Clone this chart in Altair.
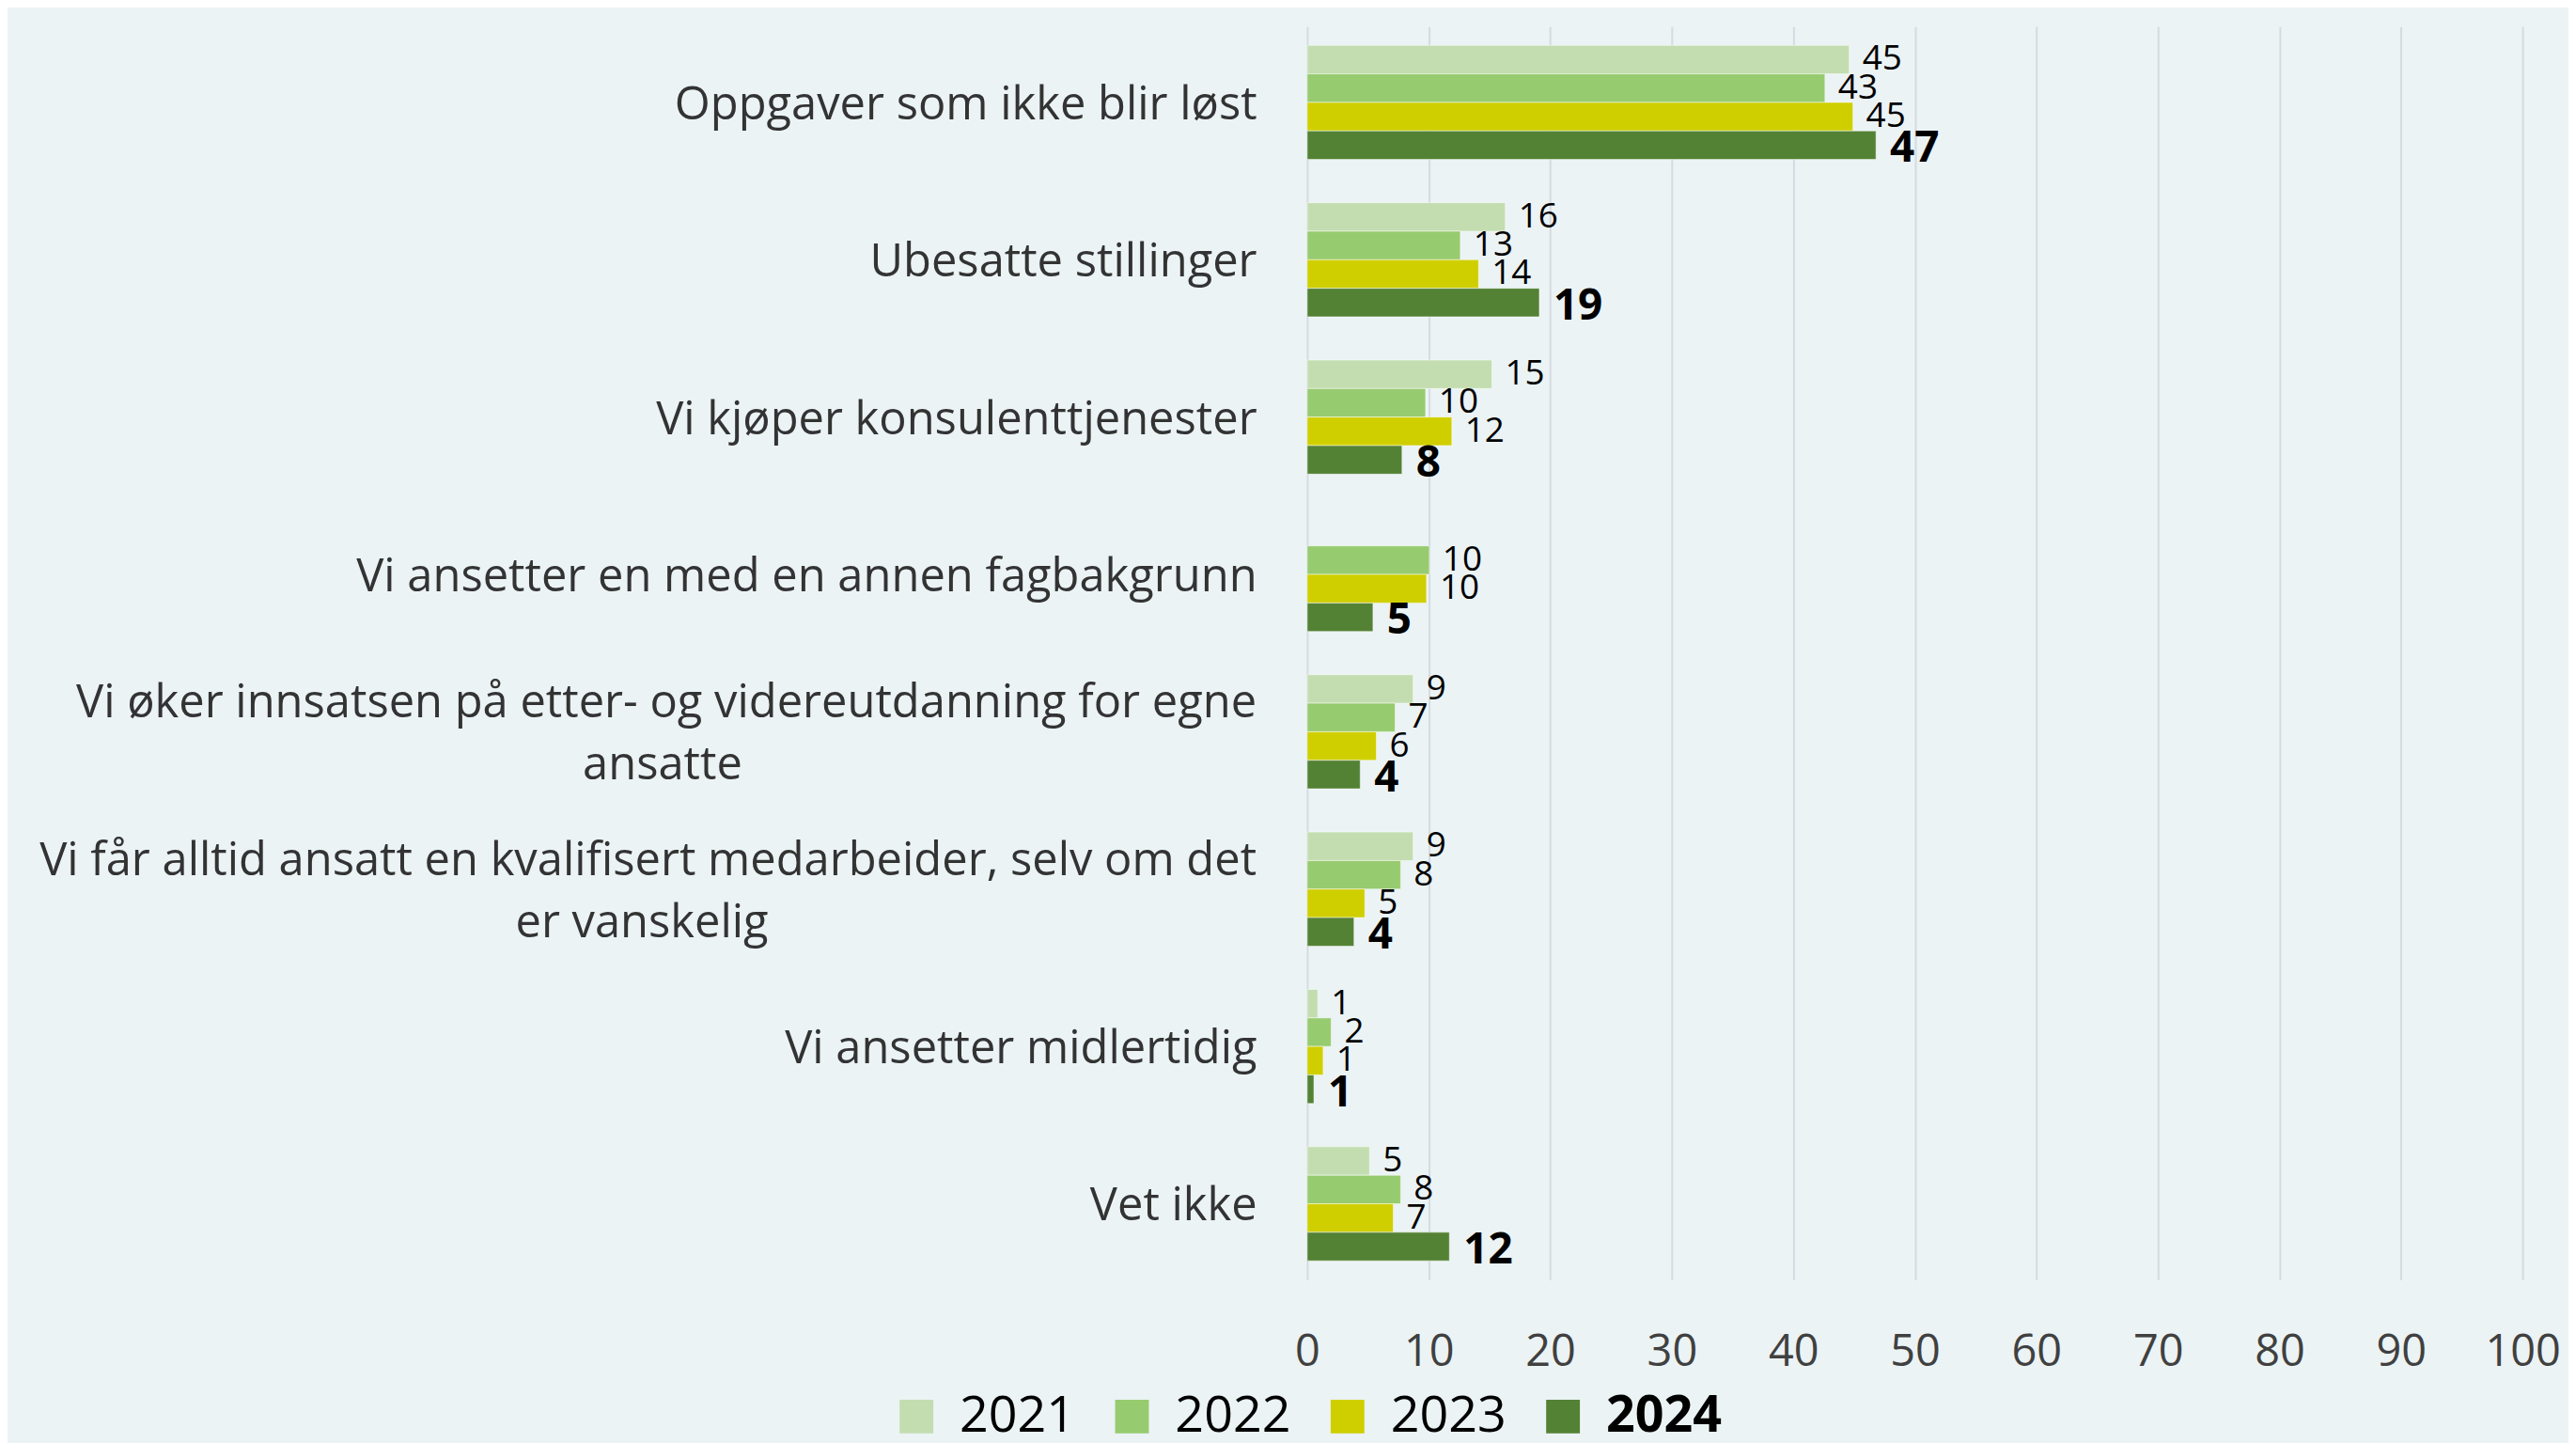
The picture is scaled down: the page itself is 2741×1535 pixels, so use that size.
import altair as alt
import pandas as pd

# ---- data ----
categories = [
    "Oppgaver som ikke blir løst",
    "Ubesatte stillinger",
    "Vi kjøper konsulenttjenester",
    "Vi ansetter en med en annen fagbakgrunn",
    "Vi øker innsatsen på etter- og videreutdanning for egne",
    "Vi får alltid ansatt en kvalifisert medarbeider, selv om det",
    "Vi ansetter midlertidig",
    "Vet ikke",
]
# the two wrapped category labels: first line is the category, second line below
wrap_categories = [categories[4], categories[5]]
wrap_lines = ["ansatte", "er vanskelig"]

years = ["2021", "2022", "2023", "2024"]
v2021 = [44.6, 16.3, 15.2, None, 8.72, 8.72, 0.87, 5.13]
v2022 = [42.6, 12.6, 9.74, 10.05, 7.23, 7.69, 1.97, 7.69]
v2023 = [44.9, 14.1, 11.9, 9.82, 5.69, 4.74, 1.31, 7.08]
v2024 = [46.8, 19.1, 7.8, 5.41, 4.36, 3.85, 0.55, 11.7]
colors = ["#C3DDB0", "#97CB6F", "#CFCF00", "#548235"]

rows = []
for yr, vals in zip(years, [v2021, v2022, v2023, v2024]):
    for c, v in zip(categories, vals):
        if v is not None:
            rows.append({"cat": c, "year": yr, "value": v})
df = pd.DataFrame(rows)

FONT = "Open Sans"
CAT_SIZE = 49
CAT_COLOR = "#333333"
EXTENT = 1387

y_enc = alt.Y(
    "cat:N",
    sort=categories,
    scale=alt.Scale(paddingInner=0.275, paddingOuter=0.12),
    axis=alt.Axis(
        title=None, domain=False, ticks=False, labelPadding=54, labelOffset=3,
        labelFont=FONT, labelFontSize=CAT_SIZE, labelColor=CAT_COLOR,
        labelLimit=2000, minExtent=EXTENT, maxExtent=EXTENT,
        labelExpr="indexof(['" + "','".join(wrap_categories) + "'], datum.value) >= 0 ? '' : datum.value",
    ),
)
x_enc = alt.X(
    "value:Q",
    scale=alt.Scale(domain=[0, 100], nice=False),
    axis=alt.Axis(
        title=None, values=list(range(0, 101, 10)), domain=False, ticks=False,
        grid=True, gridColor="#D5DBE0", gridWidth=2, labelFlush=False,
        labelFont=FONT, labelFontSize=47, labelColor="#404040", labelPadding=54,
    ),
)
yoff = alt.YOffset("year:N", sort=years, scale=alt.Scale(paddingInner=0, paddingOuter=0))

base = alt.Chart(df)

bars = base.mark_bar(stroke="#ffffff", strokeWidth=1, strokeOpacity=0.5).encode(
    x=x_enc,
    y=y_enc,
    yOffset=yoff,
    color=alt.Color(
        "year:N",
        sort=years,
        scale=alt.Scale(domain=years, range=colors),
        legend=alt.Legend(
            title=None, orient="none", legendX=-444, legendY=1456,
            direction="horizontal", symbolType="square", symbolSize=1296,
            symbolStrokeWidth=0, symbolOpacity=1,
            labelFont=FONT, labelFontSize=54, labelColor="#000000",
            labelOffset=19, columnPadding=33, padding=0,
            labelFontWeight={"expr": "datum.value == '2024' ? 'bold' : 'normal'"},
        ),
    ),
)

labels_reg = base.transform_filter("datum.year != '2024'").mark_text(
    align="left", baseline="middle", dx=14, font=FONT, fontSize=37, color="#000000"
).encode(
    x="value:Q",
    y=alt.Y("cat:N", sort=categories),
    yOffset=alt.YOffset("year:N", sort=years),
    text=alt.Text("value:Q", format=".0f"),
)

labels_bold = base.transform_filter("datum.year == '2024'").mark_text(
    align="left", baseline="middle", dx=15, dy=4, font=FONT, fontSize=46,
    fontWeight="bold", color="#000000"
).encode(
    x="value:Q",
    y=alt.Y("cat:N", sort=categories),
    yOffset=alt.YOffset("year:N", sort=years),
    text=alt.Text("value:Q", format=".0f"),
)

wrap_df = pd.DataFrame({"cat": wrap_categories, "line2": wrap_lines})

# first line of the wrapped labels, right-aligned like the axis labels
wrap_first = alt.Chart(wrap_df).mark_text(
    align="right", baseline="middle", dy=-30, font=FONT, fontSize=CAT_SIZE, color=CAT_COLOR
).encode(
    x=alt.value(-54),
    y=alt.Y("cat:N", sort=categories),
    text="cat:N",
)

# second line, centred under the first line
wrap_x = [-688, -710]
wrap_layers = []
for i, c in enumerate(wrap_categories):
    wrap_layers.append(
        alt.Chart(wrap_df).transform_filter(alt.datum.cat == c).mark_text(
            align="center", baseline="middle", dy=36, font=FONT, fontSize=CAT_SIZE,
            color=CAT_COLOR
        ).encode(
            x=alt.value(wrap_x[i]),
            y=alt.Y("cat:N", sort=categories),
            text="line2:N",
        )
    )

chart = alt.layer(bars, labels_reg, labels_bold, wrap_first, *wrap_layers).properties(
    width=1297,
    height=1337,
    padding={"left": 0, "top": 18, "right": 8, "bottom": 2},
    background="#EBF3F5",
).configure_view(strokeWidth=0)

chart.save("out.html", embed_options={"renderer": "svg", "actions": False})
